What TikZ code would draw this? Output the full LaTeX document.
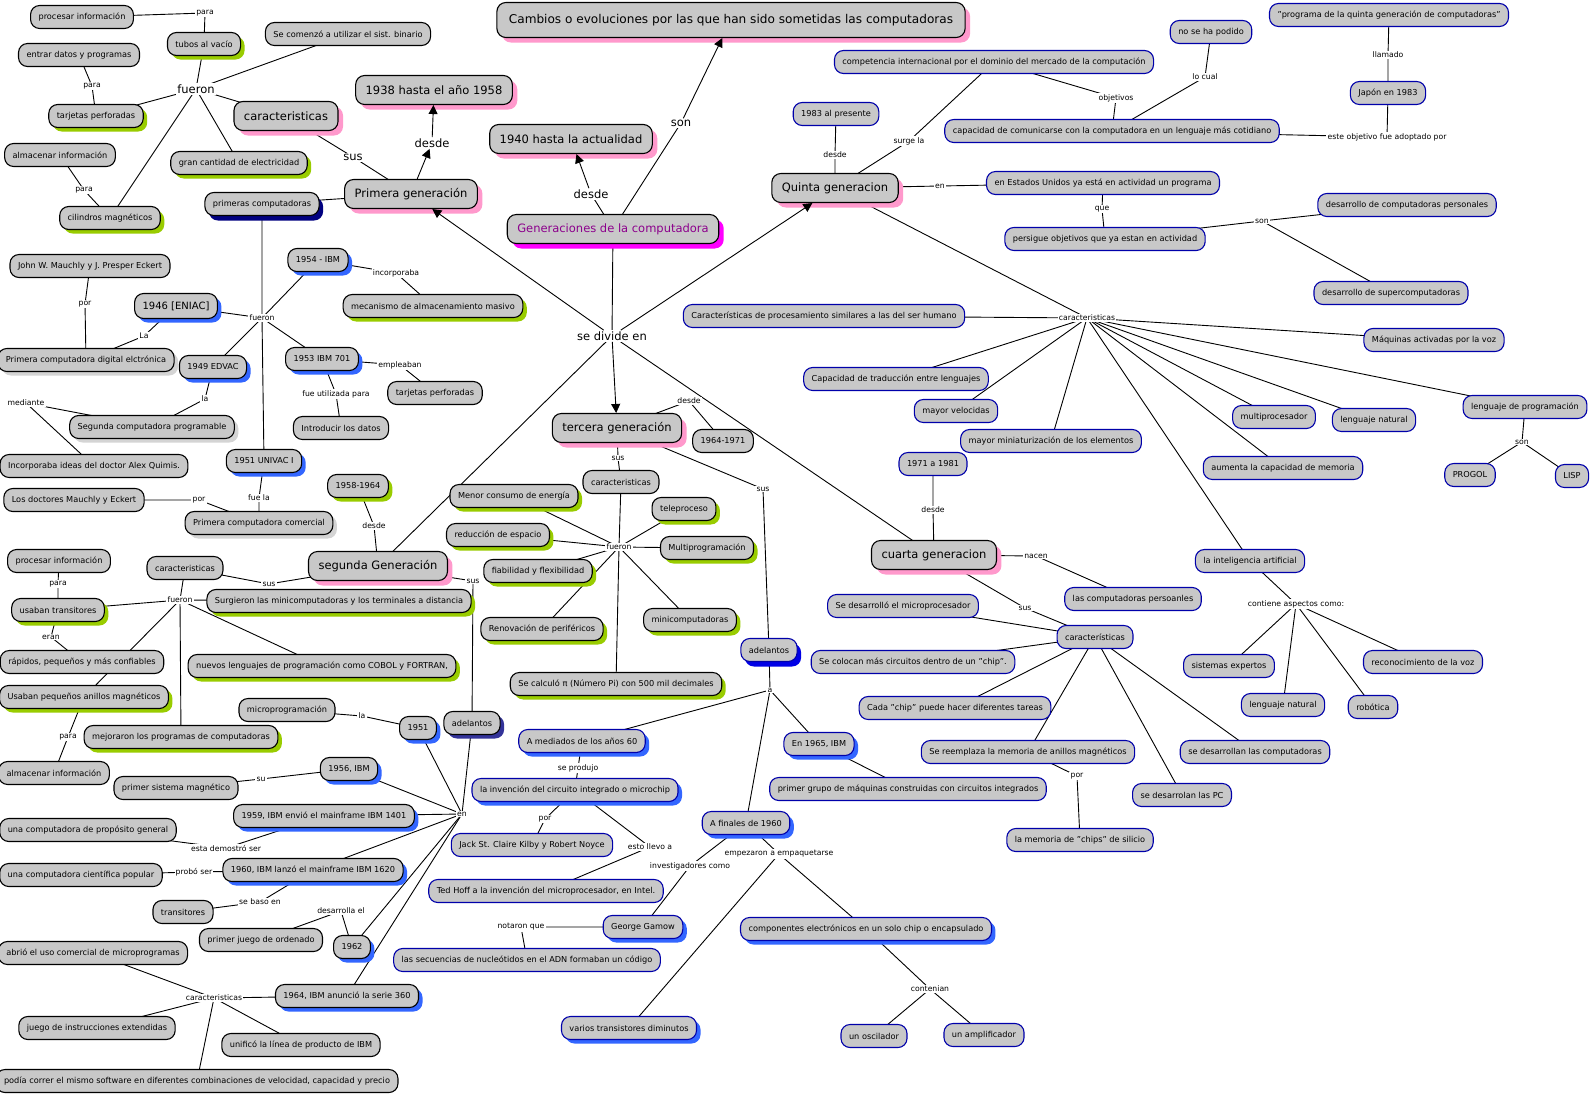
\documentclass[tikz,border=0pt]{standalone}
\usepackage{fontspec}
\setmainfont{DejaVu Sans}
\usetikzlibrary{arrows.meta,shadows}
\definecolor{boxgray}{RGB}{200,200,200}
\definecolor{shgreen}{RGB}{153,204,0}
\definecolor{shpink}{RGB}{255,153,204}
\definecolor{shblue}{RGB}{51,102,255}
\definecolor{shnavy}{RGB}{0,0,128}
\definecolor{shindigo}{RGB}{51,51,153}
\definecolor{shbright}{RGB}{0,0,230}
\definecolor{shmag}{RGB}{255,0,255}
\definecolor{shgray}{RGB}{212,212,212}
\definecolor{bordblue}{RGB}{0,0,170}
\definecolor{gentext}{RGB}{140,0,140}
\pgfdeclarelayer{bg}
\pgfsetlayers{bg,main}
\tikzset{
  concept/.style={draw=black, line width=1.1pt, fill=boxgray, rounded corners=9pt, minimum height=23pt, inner xsep=8pt, inner ysep=2pt, font=\fontsize{8.2}{10}\selectfont},
  midconcept/.style={concept, minimum height=25pt, font=\fontsize{10}{12}\selectfont},
  bigconcept/.style={concept, minimum height=29pt, inner xsep=10pt, font=\fontsize{11.5}{13}\selectfont},
  ttl/.style={bigconcept, minimum height=35pt, inner xsep=12pt, font=\fontsize{12.1}{14}\selectfont},
  bbox/.style={concept, draw=bordblue},
  grn/.style={drop shadow={shadow xshift=4pt, shadow yshift=-4pt, opacity=1, fill=shgreen}},
  pnk/.style={drop shadow={shadow xshift=5pt, shadow yshift=-5pt, opacity=1, fill=shpink}},
  blu/.style={drop shadow={shadow xshift=4pt, shadow yshift=-4pt, opacity=1, fill=shblue}},
  nvy/.style={drop shadow={shadow xshift=4pt, shadow yshift=-5pt, opacity=1, fill=shnavy}},
  ind/.style={drop shadow={shadow xshift=4pt, shadow yshift=-4pt, opacity=1, fill=shindigo}},
  brt/.style={drop shadow={shadow xshift=4pt, shadow yshift=-5pt, opacity=1, fill=shbright}},
  mag/.style={drop shadow={shadow xshift=5pt, shadow yshift=-5pt, opacity=1, fill=shmag}},
  gry/.style={drop shadow={shadow xshift=4pt, shadow yshift=-4pt, opacity=1, fill=shgray}},
  lnk/.style={fill=white, inner sep=1.2pt, font=\fontsize{7.7}{9}\selectfont},
  biglnk/.style={lnk, font=\fontsize{11.5}{13}\selectfont},
  conn/.style={line width=0.9pt},
  arr/.style={conn, -{Triangle[length=9pt,width=9pt]}}
}
\begin{document}
\begin{tikzpicture}[x=1pt,y=-1pt]
\useasboundingbox (0,0) rectangle (1592,1095);

\node[ttl,pnk] (cambios) at (731,20) {Cambios o evoluciones por las que han sido sometidas las computadoras};
\node[bigconcept,pnk] (c0actual) at (571,139) {1940 hasta la actualidad};
\node[biglnk] (l0son) at (681,123) {son};
\node[biglnk] (l0desde) at (591,194) {desde};
\node[bigconcept,mag,text=gentext] (gens) at (613,229) {Generaciones de la computadora};
\node[biglnk] (l0divide) at (612,336) {se divide en};

% primera generacion
\node[concept] (c1proc) at (82,17) {procesar información};
\node[concept,grn] (c1tubos) at (204,44) {tubos al vacío};
\node[concept] (c1binario) at (348,34) {Se comenzó a utilizar el sist. binario};
\node[concept] (c1entrar) at (79,55) {entrar datos y programas};
\node[biglnk] (l1fueron) at (196,89) {fueron};
\node[lnk] (l1para) at (205,13) {para};
\node[lnk] (l1para2) at (92,86) {para};
\node[concept,grn] (c1tarj) at (96,116) {tarjetas perforadas};
\node[bigconcept,pnk] (c1carac) at (286,116) {caracteristicas};
\node[bigconcept,pnk] (c1anios) at (434,90) {1938 hasta el año 1958};
\node[biglnk] (l1desde) at (432,143) {desde};
\node[biglnk] (l1sus) at (353,157) {sus};
\node[concept] (c1alm) at (60,155) {almacenar información};
\node[concept,grn] (c1elec) at (239,163) {gran cantidad de electricidad};
\node[lnk] (l1para3) at (84,190) {para};
\node[concept,grn] (c1cil) at (110,218) {cilindros magnéticos};
\node[concept,nvy] (c1prim) at (262,204) {primeras computadoras};
\node[bigconcept,pnk] (gen1) at (411,194) {Primera generación};
\node[concept,blu] (c1ibm54) at (318,260) {1954 - IBM};
\node[lnk] (l1incorp) at (396,273) {incorporaba};
\node[concept,grn] (c1masivo) at (433,306) {mecanismo de almacenamiento masivo};
\node[concept] (c1john) at (90,266) {John W. Mauchly y J. Presper Eckert};
\node[lnk] (l1por) at (85,304) {por};
\node[midconcept,blu] (c1eniac) at (176,306) {1946 [ENIAC]};
\node[lnk] (l1fueron2) at (262,318) {fueron};
\node[lnk] (l1la) at (144,336) {La};
\node[concept,gry] (c1digital) at (86,360) {Primera computadora digital elctrónica};
\node[concept,blu] (c1ibm53) at (322,359) {1953 IBM 701};
\node[lnk] (l1empl) at (400,365) {empleaban};
\node[concept,blu] (c1edvac) at (213,367) {1949 EDVAC};
\node[lnk] (l1la2) at (205,399) {la};
\node[lnk] (l1mediante) at (26,403) {mediante};
\node[concept,gry] (c1segunda) at (152,427) {Segunda computadora programable};
\node[concept] (c1quimis) at (94,466) {Incorporaba ideas del doctor Alex Quimis.};
\node[lnk] (l1util) at (336,394) {fue utilizada para};
\node[concept] (c1tarj2) at (435,393) {tarjetas perforadas};
\node[concept] (c1datos) at (341,428) {Introducir los datos};
\node[concept,blu] (c1univac) at (264,461) {1951 UNIVAC I};
\node[lnk] (l1feula) at (259,498) {fue la};
\node[concept] (c1doct) at (74,500) {Los doctores Mauchly y Eckert};
\node[lnk] (l1por2) at (199,500) {por};
\node[concept,gry] (c1comerc) at (259,523) {Primera computadora comercial};

% segunda generacion
\node[concept,grn] (c2anios) at (358,486) {1958-1964};
\node[lnk] (l2desde) at (374,526) {desde};
\node[bigconcept,pnk] (gen2) at (378,566) {segunda Generación};
\node[concept] (c2proc) at (59,561) {procesar información};
\node[concept] (c2carac) at (185,568) {caracteristicas};
\node[lnk] (l2sus) at (269,584) {sus};
\node[lnk] (l2sus2) at (473,581) {sus};
\node[lnk] (l2para) at (58,584) {para};
\node[lnk] (l2fueron) at (180,600) {fueron};
\node[concept,grn] (c2surg) at (339,601) {Surgieron las minicomputadoras y los terminales a distancia};
\node[concept,grn] (c2trans) at (58,610) {usaban transitores};
\node[lnk] (l2eran) at (51,637) {eran};
\node[concept] (c2rapid) at (82,662) {rápidos, pequeños y más confiables};
\node[concept,grn] (c2cobol) at (322,666) {nuevos lenguajes de programación como COBOL y FORTRAN,};
\node[concept,grn] (c2anillos) at (84,697) {Usaban pequeños anillos magnéticos};
\node[concept] (c2micro) at (287,710) {microprogramación};
\node[lnk] (l2la) at (362,716) {la};
\node[concept,blu] (c2y51) at (418,728) {1951};
\node[concept,ind] (c2adel) at (472,723) {adelantos};
\node[lnk] (l2para2) at (68,737) {para};
\node[concept,grn] (c2mejor) at (181,737) {mejoraron los programas de computadoras};
\node[concept] (c2alm) at (54,773) {almacenar información};
\node[concept,blu] (c2y56) at (349,769) {1956, IBM};
\node[lnk] (l2su) at (261,779) {su};
\node[concept] (c2magn) at (176,788) {primer sistema magnético};
\node[concept,blu] (c2y59) at (324,816) {1959, IBM envió el mainframe IBM 1401};
\node[lnk] (l2en) at (462,814) {en};
\node[concept] (c2gral) at (88,830) {una computadora de propósito general};
\node[lnk] (l2demo) at (226,848) {esta demostró ser};
\node[concept,blu] (c2y60) at (313,870) {1960, IBM lanzó el mainframe IBM 1620};
\node[concept] (c2cient) at (81,875) {una computadora científica popular};
\node[lnk] (l2probo) at (194,872) {probó ser};
\node[lnk] (l2baso) at (260,902) {se baso en};
\node[concept] (c2transit) at (183,912) {transitores};
\node[lnk] (l2desarr) at (341,911) {desarrolla el};
\node[concept] (c2juego) at (261,940) {primer juego de ordenado};
\node[concept,blu] (c2y62) at (352,947) {1962};
\node[concept] (c2abrio) at (93,953) {abrió el uso comercial de microprogramas};
\node[lnk] (l2carac) at (214,998) {caracteristicas};
\node[concept,blu] (c2y64) at (347,996) {1964, IBM anunció la serie 360};
\node[concept] (c2instr) at (97,1028) {juego de instrucciones extendidas};
\node[concept] (c2unif) at (301,1045) {unificó la línea de producto de IBM};
\node[concept] (c2soft) at (197,1081) {podía correr el mismo software en diferentes combinaciones de velocidad, capacidad y precio};

% tercera generacion
\node[bigconcept,pnk] (gen3) at (617,428) {tercera generación};
\node[lnk] (l3desde) at (689,401) {desde};
\node[concept] (c3anios) at (723,441) {1964-1971};
\node[lnk] (l3sus) at (618,458) {sus};
\node[concept] (c3carac) at (621,482) {caracteristicas};
\node[lnk] (l3sus2) at (763,489) {sus};
\node[concept,grn] (c3energia) at (514,496) {Menor consumo de energía};
\node[concept,grn] (c3telep) at (684,509) {teleproceso};
\node[concept,grn] (c3espacio) at (498,535) {reducción de espacio};
\node[lnk] (l3fueron) at (619,547) {fueron};
\node[concept,grn] (c3multi) at (707,548) {Multiprogramación};
\node[concept,grn] (c3fiab) at (538,571) {fiabilidad y flexibilidad};
\node[concept,grn] (c3perif) at (542,629) {Renovación de periféricos};
\node[concept,grn] (c3minic) at (690,620) {minicomputadoras};
\node[bbox,brt] (c3adel) at (769,650) {adelantos};
\node[concept,grn] (c3pi) at (616,684) {Se calculó π (Número Pi) con 500 mil decimales};
\node[lnk] (l3a) at (770,690) {a};
\node[bbox,blu] (c3mediad) at (582,741) {A mediados de los años 60};
\node[lnk] (l3produjo) at (578,768) {se produjo};
\node[bbox,blu] (c3ibm65) at (819,744) {En 1965, IBM};
\node[bbox,blu] (c3chip) at (575,790) {la invención del circuito integrado o microchip};
\node[bbox] (c3grupo) at (908,789) {primer grupo de máquinas construidas con circuitos integrados};
\node[lnk] (l3por) at (545,819) {por};
\node[bbox,blu] (c3finales) at (746,823) {A finales de 1960};
\node[lnk] (l3llevo) at (650,847) {esto llevo a};
\node[lnk] (l3empaq) at (779,854) {empezaron a empaquetarse};
\node[bbox] (c3kilby) at (532,845) {Jack St. Claire Kilby y Robert Noyce};
\node[lnk] (l3invest) at (690,866) {investigadores como};
\node[bbox] (c3hoff) at (546,891) {Ted Hoff a la invención del microprocesador, en Intel.};
\node[bbox,blu] (c3gamow) at (643,927) {George Gamow};
\node[lnk] (l3notaron) at (521,927) {notaron que};
\node[bbox,blu] (c3compon) at (866,929) {componentes electrónicos en un solo chip o encapsulado};
\node[bbox] (c3adn) at (527,960) {las secuencias de nucleótidos en el ADN formaban un código};
\node[lnk] (l3conten) at (930,989) {contenian};
\node[bbox,blu] (c3transist) at (629,1028) {varios transistores diminutos};
\node[bbox] (c3oscil) at (874,1036) {un oscilador};
\node[bbox] (c3ampli) at (984,1035) {un amplificador};

% cuarta generacion
\node[bigconcept,pnk] (gen4) at (934,555) {cuarta generacion};
\node[bbox] (c4anios) at (933,464) {1971 a 1981};
\node[lnk] (l4desde) at (933,510) {desde};
\node[lnk] (l4nacen) at (1036,556) {nacen};
\node[bbox] (c4pers) at (1133,599) {las computadoras persoanles};
\node[lnk] (l4sus) at (1025,608) {sus};
\node[bbox] (c4carac) at (1095,637) {características};
\node[bbox] (c4micro) at (903,606) {Se desarrolló el microprocesador};
\node[bbox] (c4chip) at (913,662) {Se colocan más circuitos dentro de un "chip".};
\node[bbox] (c4tareas) at (955,708) {Cada "chip" puede hacer diferentes tareas};
\node[bbox] (c4anillos) at (1028,752) {Se reemplaza la memoria de anillos magnéticos};
\node[bbox] (c4comput) at (1255,752) {se desarrollan las computadoras};
\node[lnk] (l4por) at (1077,776) {por};
\node[bbox] (c4pc) at (1182,795) {se desarrolan las PC};
\node[bbox] (c4silicio) at (1080,840) {la memoria de "chips" de silicio};

% quinta generacion
\node[bigconcept,pnk] (gen5) at (835,188) {Quinta generacion};
\node[bbox] (c5pres) at (836,114) {1983 al presente};
\node[lnk] (l5desde) at (835,155) {desde};
\node[lnk] (l5surge) at (909,141) {surge la};
\node[bbox] (c5compet) at (994,62) {competencia internacional por el dominio del mercado de la computación};
\node[lnk] (l5obj) at (1116,98) {objetivos};
\node[bbox] (c5comun) at (1112,131) {capacidad de comunicarse con la computadora en un lenguaje más cotidiano};
\node[lnk] (l5locual) at (1205,77) {lo cual};
\node[bbox] (c5nopod) at (1211,32) {no se ha podido};
\node[lnk] (l5adopt) at (1387,137) {este objetivo fue adoptado por};
\node[bbox] (c5japon) at (1388,93) {Japón en 1983};
\node[lnk] (l5llamado) at (1388,55) {llamado};
\node[bbox] (c5prog) at (1389,15) {"programa de la quinta generación de computadoras"};
\node[lnk] (l5en) at (940,186) {en};
\node[bbox] (c5eeuu) at (1103,183) {en Estados Unidos ya está en actividad un programa};
\node[lnk] (l5que) at (1102,209) {que};
\node[bbox] (c5persig) at (1105,239) {persigue objetivos que ya estan en actividad};
\node[lnk] (l5son) at (1262,221) {son};
\node[bbox] (c5pers) at (1407,205) {desarrollo de computadoras personales};
\node[bbox] (c5super) at (1391,293) {desarrollo de supercomputadoras};
\node[lnk] (l5carac) at (1087,318) {caracteristicas};
\node[bbox] (c5humano) at (824,316) {Características de procesamiento similares a las del ser humano};
\node[bbox] (c5voz) at (1434,340) {Máquinas activadas por la voz};
\node[bbox] (c5trad) at (896,379) {Capacidad de traducción entre lenguajes};
\node[bbox] (c5veloc) at (956,411) {mayor velocidas};
\node[bbox] (c5mini) at (1051,441) {mayor miniaturización de los elementos};
\node[bbox] (c5multi) at (1274,417) {multiprocesador};
\node[bbox] (c5natural) at (1374,420) {lenguaje natural};
\node[bbox] (c5lengprog) at (1525,407) {lenguaje de programación};
\node[lnk] (l5son2) at (1522,442) {son};
\node[bbox] (c5progol) at (1470,475) {PROGOL};
\node[bbox] (c5lisp) at (1572,476) {LISP};
\node[bbox] (c5memoria) at (1283,468) {aumenta la capacidad de memoria};
\node[bbox] (c5ia) at (1250,561) {la inteligencia artificial};
\node[lnk] (l5contiene) at (1296,604) {contiene aspectos como:};
\node[bbox] (c5expert) at (1229,666) {sistemas expertos};
\node[bbox] (c5voz2) at (1423,662) {reconocimiento de la voz};
\node[bbox] (c5natural2) at (1283,705) {lenguaje natural};
\node[bbox] (c5robot) at (1373,707) {robótica};

\begin{pgfonlayer}{bg}
\fill[white] (0,0) rectangle (1592,1095);
\draw[conn] (gens.center) -- (l0son.center);
\draw[conn] (gens.center) -- (l0desde.center);
\draw[conn] (gens.center) -- (l0divide.center) -- (gen2.center) -- (l2desde.center) -- (c2anios.center);
\draw[conn] (l0divide.center) -- (gen4.center) -- (l4desde.center) -- (c4anios.center);
% primera
\draw[conn] (c1proc.center) -- (l1para.center) -- (c1tubos.center) -- (l1fueron.center) -- (c1binario.center);
\draw[conn] (c1tarj.center) -- (l1fueron.center) -- (c1carac.center) -- (l1sus.center) -- (gen1.center) -- (c1prim.center) -- (l1fueron2.center) -- (c1univac.center);
\draw[conn] (c1elec.center) -- (l1fueron.center) -- (c1cil.center) -- (l1para3.center) -- (c1alm.center);
\draw[conn] (c1entrar.center) -- (l1para2.center) -- (c1tarj.center);
\draw[conn] (c1ibm54.center) -- (l1fueron2.center) -- (c1eniac.center) -- (l1la.center) -- (c1digital.center) -- (l1por.center) -- (c1john.center);
\draw[conn] (c1edvac.center) -- (l1fueron2.center) -- (c1ibm53.center) -- (l1empl.center) -- (c1tarj2.center);
\draw[conn] (c1ibm54.center) -- (l1incorp.center) -- (c1masivo.center);
\draw[conn] (c1ibm53.center) -- (l1util.center) -- (c1datos.center);
\draw[conn] (c1edvac.center) -- (l1la2.center) -- (c1segunda.center) -- (l1mediante.center) -- (c1quimis.center);
\draw[conn] (c1univac.center) -- (l1feula.center) -- (c1comerc.center) -- (l1por2.center) -- (c1doct.center);
% segunda
\draw[conn] (gen2.center) -- (l2sus.center) -- (c2carac.center) -- (l2fueron.center) -- (c2trans.center) -- (l2para.center) -- (c2proc.center);
\draw[conn] (c2surg.center) -- (l2fueron.center) -- (c2cobol.center);
\draw[conn] (c2anillos.center) -- (l2fueron.center) -- (c2mejor.center);
\draw[conn] (c2trans.center) -- (l2eran.center) -- (c2rapid.center);
\draw[conn] (c2anillos.center) -- (l2para2.center) -- (c2alm.center);
\draw[conn] (gen2.center) -- (l2sus2.center) -- (c2adel.center) -- (l2en.center) -- (c2y51.center) -- (l2la.center) -- (c2micro.center);
\draw[conn] (c2y56.center) -- (l2en.center) -- (c2y59.center);
\draw[conn] (c2y60.center) -- (l2en.center) -- (c2y62.center);
\draw[conn] (c2y64.center) -- (l2en.center);
\draw[conn] (c2y56.center) -- (l2su.center) -- (c2magn.center);
\draw[conn] (c2y59.center) -- (l2demo.center) -- (c2gral.center);
\draw[conn] (c2cient.center) -- (l2probo.center) -- (c2y60.center) -- (l2baso.center) -- (c2transit.center);
\draw[conn] (c2y62.center) -- (l2desarr.center) -- (c2juego.center);
\draw[conn] (c2y64.center) -- (l2carac.center) -- (c2abrio.center);
\draw[conn] (c2instr.center) -- (l2carac.center) -- (c2unif.center);
\draw[conn] (c2soft.center) -- (l2carac.center);
% tercera
\draw[conn] (gen3.center) -- (l3desde.center) -- (c3anios.center);
\draw[conn] (gen3.center) -- (l3sus.center) -- (c3carac.center) -- (l3fueron.center) -- (c3pi.center);
\draw[conn] (c3energia.center) -- (l3fueron.center) -- (c3telep.center);
\draw[conn] (c3espacio.center) -- (l3fueron.center) -- (c3multi.center);
\draw[conn] (c3fiab.center) -- (l3fueron.center) -- (c3minic.center);
\draw[conn] (c3perif.center) -- (l3fueron.center);
\draw[conn] (gen3.center) -- (l3sus2.center) -- (c3adel.center) -- (l3a.center) -- (c3mediad.center) -- (l3produjo.center) -- (c3chip.center) -- (l3por.center) -- (c3kilby.center);
\draw[conn] (c3ibm65.center) -- (l3a.center) -- (c3finales.center) -- (l3invest.center) -- (c3gamow.center) -- (l3notaron.center) -- (c3adn.center);
\draw[conn] (c3chip.center) -- (l3llevo.center) -- (c3hoff.center);
\draw[conn] (c3ibm65.center) -- (c3grupo.center);
\draw[conn] (c3transist.center) -- (l3empaq.center) -- (c3finales.center);
\draw[conn] (l3empaq.center) -- (c3compon.center) -- (l3conten.center) -- (c3oscil.center);
\draw[conn] (l3conten.center) -- (c3ampli.center);
% cuarta
\draw[conn] (gen4.center) -- (l4nacen.center) -- (c4pers.center);
\draw[conn] (gen4.center) -- (l4sus.center) -- (c4carac.center) -- (c4micro.center);
\draw[conn] (c4chip.center) -- (c4carac.center) -- (c4tareas.center);
\draw[conn] (c4anillos.center) -- (c4carac.center) -- (c4pc.center);
\draw[conn] (c4comput.center) -- (c4carac.center);
\draw[conn] (c4anillos.center) -- (l4por.center) -- (c4silicio.center);
% quinta
\draw[conn] (gen5.center) -- (l5desde.center) -- (c5pres.center);
\draw[conn] (gen5.center) -- (l5surge.center) -- (c5compet.center) -- (l5obj.center) -- (c5comun.center) -- (l5locual.center) -- (c5nopod.center);
\draw[conn] (c5comun.center) -- (l5adopt.center) -- (c5japon.center) -- (l5llamado.center) -- (c5prog.center);
\draw[conn] (gen5.center) -- (l5en.center) -- (c5eeuu.center) -- (l5que.center) -- (c5persig.center) -- (l5son.center) -- (c5pers.center);
\draw[conn] (l5son.center) -- (c5super.center);
\draw[conn] (gen5.center) -- (l5carac.center) -- (c5humano.center);
\draw[conn] (c5voz.center) -- (l5carac.center) -- (c5trad.center);
\draw[conn] (c5veloc.center) -- (l5carac.center) -- (c5mini.center);
\draw[conn] (c5ia.center) -- (l5carac.center) -- (c5memoria.center);
\draw[conn] (c5multi.center) -- (l5carac.center) -- (c5natural.center);
\draw[conn] (c5lengprog.center) -- (l5carac.center);
\draw[conn] (c5lengprog.center) -- (l5son2.center) -- (c5progol.center);
\draw[conn] (l5son2.center) -- (c5lisp.center);
\draw[conn] (c5ia.center) -- (l5contiene.center) -- (c5expert.center);
\draw[conn] (c5natural2.center) -- (l5contiene.center) -- (c5robot.center);
\draw[conn] (c5voz2.center) -- (l5contiene.center);
\end{pgfonlayer}

\draw[arr] (l0son) -- (cambios);
\draw[arr] (l0desde) -- (c0actual);
\draw[arr] (gen1) -- (l1desde);
\draw[arr] (l1desde) -- (c1anios);
\draw[arr] (l0divide) -- (gen1);
\draw[arr] (l0divide) -- (gen3);
\draw[arr] (l0divide) -- (gen5);
\end{tikzpicture}
\end{document}
